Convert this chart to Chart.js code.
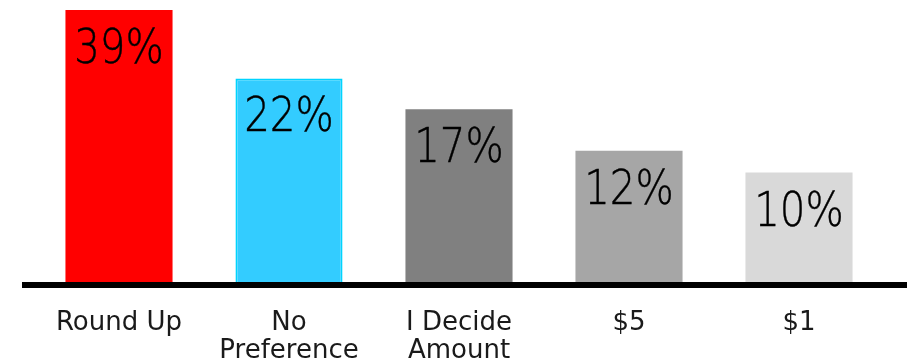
<!DOCTYPE html>
<html>
<head>
<meta charset="utf-8">
<script src="https://cdn.jsdelivr.net/npm/chart.js@4/dist/chart.umd.min.js"></script>
<style>
  html, body { margin: 0; padding: 0; background: #fff; }
  #wrap { width: 910px; height: 361px; position: relative; }
</style>
</head>
<body>
<div id="wrap"><canvas id="chart"></canvas></div>
<script>
const categories = ['Round Up', ['No', 'Preference'], ['I Decide', 'Amount'], '$5', '$1'];
const shares = [39, 22, 17, 12, 10];
const barColors = ['#ff0000', '#33ccff', '#808080', '#a6a6a6', '#d9d9d9'];
const barBorders = ['#ff0000', '#00d4ff', '#808080', '#a6a6a6', '#d9d9d9'];

const FONT = "'DejaVu Sans', sans-serif";

// великі підписи відсотків всередині верхньої частини стовпців
const valueLabels = {
    id: 'valueLabels',
    afterDatasetsDraw(chart) {
        const ctx = chart.ctx;
        const meta = chart.getDatasetMeta(0);
        ctx.save();
        ctx.fillStyle = '#000';
        ctx.strokeStyle = '#000';
        ctx.lineWidth = 0.45;
        ctx.font = '200 48px ' + FONT;
        ctx.textAlign = 'center';
        ctx.textBaseline = 'alphabetic';
        meta.data.forEach((bar, i) => {
            const txt = shares[i] + '%';
            ctx.save();
            ctx.translate(bar.x, bar.y + 53);
            ctx.scale(0.84, 1);
            ctx.fillText(txt, 0, 0);
            ctx.strokeText(txt, 0, 0);
            ctx.restore();
        });
        ctx.restore();
    }
};

// товста чорна лінія основи, трохи ширша за область графіка
const baseLine = {
    id: 'baseLine',
    afterDatasetsDraw(chart) {
        const { ctx, chartArea } = chart;
        ctx.save();
        ctx.fillStyle = '#000';
        ctx.fillRect(chartArea.left - 12, chartArea.bottom, chartArea.right - chartArea.left + 35, 6);
        ctx.restore();
    }
};

new Chart(document.getElementById('chart'), {
    type: 'bar',
    data: {
        labels: categories,
        datasets: [{
            data: shares,
            backgroundColor: barColors,
            borderColor: barBorders,
            borderWidth: [0, 2, 0, 0, 0],
            borderSkipped: 'bottom',
            categoryPercentage: 1,
            barPercentage: 0.63
        }]
    },
    options: {
        responsive: true,
        maintainAspectRatio: false,
        animation: false,
        layout: { padding: { top: 10, left: 34, right: 26, bottom: 0 } },
        plugins: {
            legend: { display: false },
            tooltip: { enabled: false }
        },
        scales: {
            x: {
                grid: { display: false, drawTicks: false },
                border: { display: false },
                ticks: {
                    color: '#1a1a1a',
                    padding: 27,
                    maxRotation: 0,
                    autoSkip: false,
                    font: { family: FONT, size: 26, weight: 'normal', lineHeight: 1.08 }
                },
                afterFit: axis => { axis.height = 79; }
            },
            y: {
                type: 'logarithmic',
                display: false,
                min: 4,
                max: 39
            }
        }
    },
    plugins: [valueLabels, baseLine]
});
</script>
</body>
</html>
